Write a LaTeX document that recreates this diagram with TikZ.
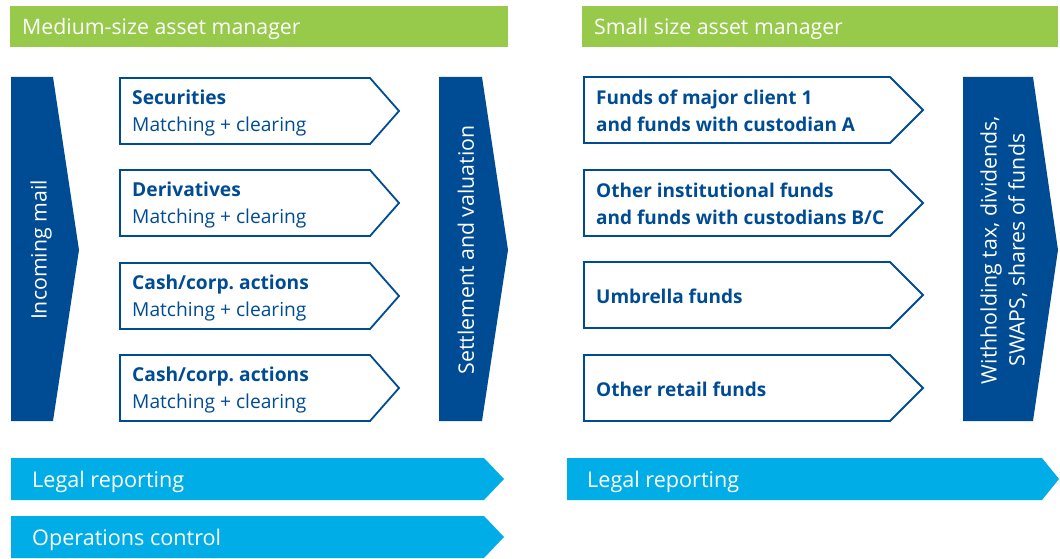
\documentclass[tikz,border=0pt]{standalone}
\usepackage{fontspec}
\setmainfont{Open Sans}
\definecolor{hdrgreen}{HTML}{97C94B}
\definecolor{dkblue}{HTML}{004C94}
\definecolor{ltblue}{HTML}{00ADE7}
\begin{document}
\begin{tikzpicture}[x=1pt,y=-1pt,
  hdrtext/.style={anchor=west,text=white,font=\fontsize{21.3}{25}\selectfont,inner sep=0pt},
  bartext/.style={anchor=west,text=white,font=\fontsize{21.6}{25}\selectfont,inner sep=0pt},
  vtext/.style={rotate=90,text=white,font=\fontsize{21.3}{28}\selectfont,align=center,inner sep=0pt},
  stepbox/.style={draw=dkblue,line width=1.8pt,fill=white,line join=miter},
  boxtext/.style={anchor=west,text=dkblue,align=left,inner sep=0pt,font=\fontsize{19.2}{27}\selectfont},
  tall/.style={fill=dkblue},
  band/.style={fill=ltblue}]
\useasboundingbox (0,0) rectangle (1060,559);

% section headers
\fill[hdrgreen] (10,6) rectangle (508,47);
\node[hdrtext] (hL) at (22,29) {Medium-size asset manager};
\fill[hdrgreen] (582,6) rectangle (1058,47);
\node[hdrtext] (hR) at (594,29) {Small size asset manager};

% tall chevrons
\fill[tall] (11,77) -- (53,77) -- (79,250) -- (53,421) -- (11,421) -- cycle;
\node[vtext] (mail) at (41,250) {Incoming mail};
\fill[tall] (439,77) -- (482,77) -- (508,250) -- (482,421) -- (439,421) -- cycle;
\node[vtext] (settle) at (466,250) {Settlement and valuation};
\fill[tall] (963,77) -- (1033,77) -- (1058,250) -- (1033,421) -- (963,421) -- cycle;
\node[vtext] (tax) at (1004,250) {Withholding tax, dividends,\\SWAPS, shares of funds};

% left column process steps
\foreach \t/\n in {78/Securities,170/Derivatives,263/Cash\slash corp.\ actions,355/Cash\slash corp.\ actions}{
  \draw[stepbox] (120,\t) -- (370,\t) -- (399,\t+33) -- (370,\t+66) -- (120,\t+66) -- cycle;
  \node[boxtext] at (132,\t+35) {\textbf{\n}\\Matching + clearing};
}

% right column fund groups
\foreach \t/\n in {77/{Funds of major client 1\\and funds with custodian A},
                   170/{Other institutional funds\\and funds with custodians B/C},
                   262/{Umbrella funds},
                   355/{Other retail funds}}{
  \draw[stepbox] (584,\t) -- (890,\t) -- (923,\t+33) -- (890,\t+66) -- (584,\t+66) -- cycle;
  \node[boxtext,font=\fontsize{19}{27}\selectfont\bfseries] at (596,\t+34) {\n};
}

% bottom bands
\fill[band] (11,458) -- (484,458) -- (504,479) -- (484,500) -- (11,500) -- cycle;
\node[bartext] (legL) at (32,482) {Legal reporting};
\fill[band] (11,516) -- (484,516) -- (504,537) -- (484,558) -- (11,558) -- cycle;
\node[bartext] (ops) at (32,540) {Operations control};
\fill[band] (567,458) -- (1042,458) -- (1059,479) -- (1042,500) -- (567,500) -- cycle;
\node[bartext] (legR) at (587,482) {Legal reporting};
\end{tikzpicture}
\end{document}
